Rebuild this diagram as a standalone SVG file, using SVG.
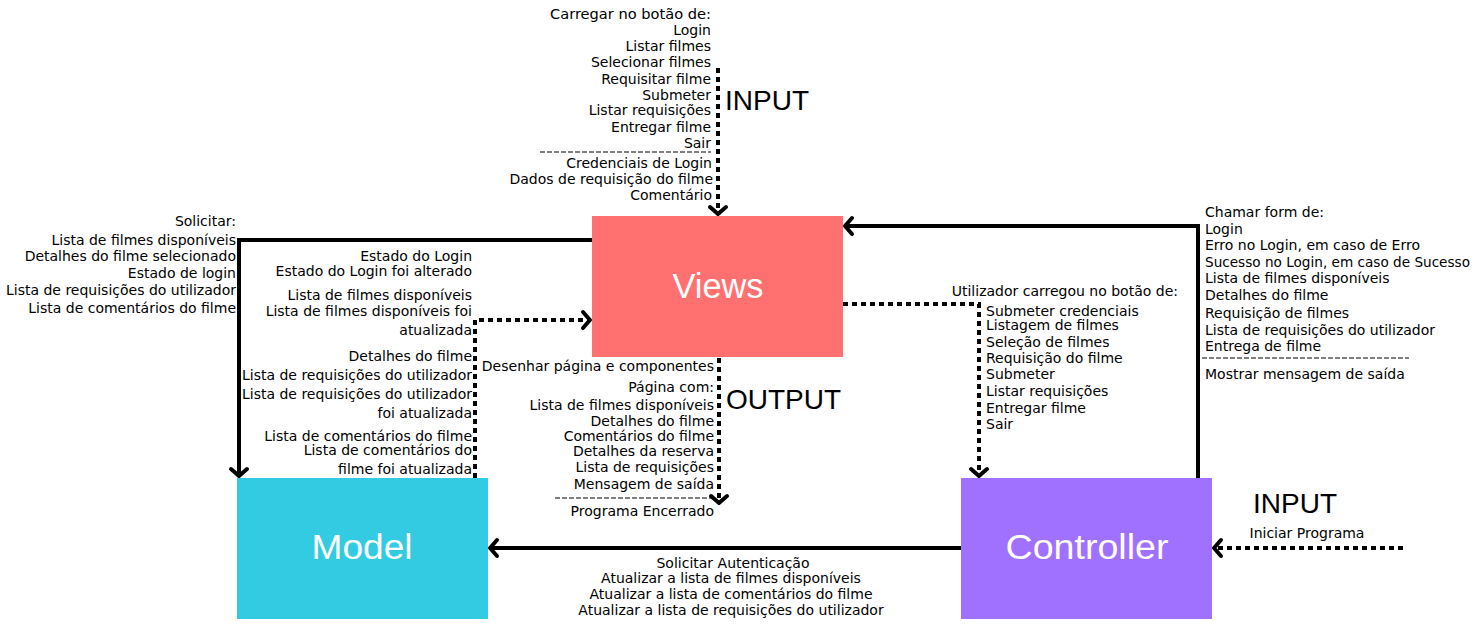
<svg xmlns="http://www.w3.org/2000/svg" width="1478" height="636" viewBox="0 0 1478 636">
<style>
text{font-family:"DejaVu Sans","Liberation Sans",sans-serif;font-size:14px;fill:#000}
.r{text-anchor:end}
.m{text-anchor:middle}
.big{font-family:"Liberation Sans","DejaVu Sans",sans-serif;font-size:35px;fill:#fff;text-anchor:middle}
.io{font-family:"Liberation Sans","DejaVu Sans",sans-serif;font-size:28px}
.solid{fill:none;stroke:#000;stroke-width:4}
.dot{fill:none;stroke:#000;stroke-width:4;stroke-dasharray:5 4}
.sep{stroke:#000;stroke-width:1;stroke-dasharray:5 2}
</style>
<defs>
<marker id="arr" markerUnits="userSpaceOnUse" viewBox="-12 -12 24 24" markerWidth="24" markerHeight="24" refX="0" refY="0" orient="auto" overflow="visible">
<path d="M-8,-8 L-1,0 L-8,8" fill="none" stroke="#000" stroke-width="4" stroke-linecap="round" stroke-linejoin="round"/>
</marker>
</defs>
<rect width="1478" height="636" fill="#fff"/>

<g id="connectors">
<path class="solid" d="M592,240 H239 V477" marker-end="url(#arr)"/>
<path class="dot" d="M475,478 V320 H591" marker-end="url(#arr)"/>
<path class="dot" d="M718,68 V215" marker-end="url(#arr)"/>
<path class="dot" d="M719,358 V504" marker-end="url(#arr)"/>
<path class="dot" d="M843,304 H979 V477" marker-end="url(#arr)"/>
<path class="solid" d="M1198,478 V226 H844" marker-end="url(#arr)"/>
<path class="solid" d="M961,548 H489" marker-end="url(#arr)"/>
<path class="dot" d="M1403,548 H1213" marker-end="url(#arr)"/>
</g>

<g id="views">
<rect x="592" y="216" width="251" height="141" fill="#ff7070"/>
<text class="big" x="718" y="298" textLength="91" lengthAdjust="spacingAndGlyphs">Views</text>
</g>
<g id="model">
<rect x="237" y="478" width="251" height="141" fill="#33cbe2"/>
<text class="big" x="362" y="559" textLength="101" lengthAdjust="spacingAndGlyphs">Model</text>
</g>
<g id="controller">
<rect x="961" y="478" width="251" height="141" fill="#a070ff"/>
<text class="big" x="1087" y="559" textLength="163" lengthAdjust="spacingAndGlyphs">Controller</text>
</g>

<g id="label-input-top">
<text class="r" x="711" y="19" textLength="161" lengthAdjust="spacingAndGlyphs">Carregar no botão de:</text>
<text class="r" x="711" y="35">Login</text>
<text class="r" x="711" y="51">Listar filmes</text>
<text class="r" x="711" y="67">Selecionar filmes</text>
<text class="r" x="711" y="84">Requisitar filme</text>
<text class="r" x="711" y="100">Submeter</text>
<text class="r" x="711" y="115">Listar requisições</text>
<text class="r" x="711" y="132">Entregar filme</text>
<text class="r" x="711" y="148">Sair</text>
<line class="sep" x1="540" y1="152" x2="711" y2="152"/>
<text class="r" x="712" y="168">Credenciais de Login</text>
<text class="r" x="713" y="184">Dados de requisição do filme</text>
<text class="r" x="712" y="200">Comentário</text>
<text class="io" x="725" y="110">INPUT</text>
</g>

<g id="label-solicitar">
<text class="r" x="236" y="226">Solicitar:</text>
<text class="r" x="236" y="245">Lista de filmes disponíveis</text>
<text class="r" x="236" y="261">Detalhes do filme selecionado</text>
<text class="r" x="236" y="278">Estado de login</text>
<text class="r" x="236" y="295">Lista de requisições do utilizador</text>
<text class="r" x="236" y="313">Lista de comentários do filme</text>
</g>

<g id="label-model-views">
<text class="r" x="472" y="261">Estado do Login</text>
<text class="r" x="472" y="276">Estado do Login foi alterado</text>
<text class="r" x="472" y="300">Lista de filmes disponíveis</text>
<text class="r" x="472" y="316">Lista de filmes disponíveis foi</text>
<text class="r" x="472" y="335">atualizada</text>
<text class="r" x="472" y="361">Detalhes do filme</text>
<text class="r" x="472" y="380">Lista de requisições do utilizador</text>
<text class="r" x="472" y="399">Lista de requisições do utilizador</text>
<text class="r" x="472" y="418">foi atualizada</text>
<text class="r" x="472" y="441">Lista de comentários do filme</text>
<text class="r" x="472" y="455">Lista de comentários do</text>
<text class="r" x="472" y="474">filme foi atualizada</text>
</g>

<g id="label-output">
<text class="r" x="714" y="371">Desenhar página e componentes</text>
<text class="r" x="714" y="392">Página com:</text>
<text class="r" x="714" y="410">Lista de filmes disponíveis</text>
<text class="r" x="714" y="426">Detalhes do filme</text>
<text class="r" x="714" y="441">Comentários do filme</text>
<text class="r" x="714" y="456">Detalhes da reserva</text>
<text class="r" x="714" y="472">Lista de requisições</text>
<text class="r" x="714" y="489">Mensagem de saída</text>
<line class="sep" x1="555" y1="498" x2="712" y2="498"/>
<text class="r" x="714" y="516">Programa Encerrado</text>
<text class="io" x="726" y="409">OUTPUT</text>
</g>

<g id="label-views-controller">
<text class="r" x="1178" y="296">Utilizador carregou no botão de:</text>
<text x="986" y="316">Submeter credenciais</text>
<text x="986" y="330">Listagem de filmes</text>
<text x="986" y="347">Seleção de filmes</text>
<text x="986" y="363">Requisição do filme</text>
<text x="986" y="379">Submeter</text>
<text x="986" y="396">Listar requisições</text>
<text x="986" y="413">Entregar filme</text>
<text x="986" y="429">Sair</text>
</g>

<g id="label-controller-views">
<text x="1205" y="217">Chamar form de:</text>
<text x="1205" y="234">Login</text>
<text x="1205" y="250">Erro no Login, em caso de Erro</text>
<text x="1205" y="267" textLength="265" lengthAdjust="spacingAndGlyphs">Sucesso no Login, em caso de Sucesso</text>
<text x="1205" y="283">Lista de filmes disponíveis</text>
<text x="1205" y="300">Detalhes do filme</text>
<text x="1205" y="318">Requisição de filmes</text>
<text x="1205" y="335">Lista de requisições do utilizador</text>
<text x="1205" y="351">Entrega de filme</text>
<line class="sep" x1="1202" y1="358" x2="1409" y2="358"/>
<text x="1205" y="379">Mostrar mensagem de saída</text>
</g>

<g id="label-input-right">
<text class="io" x="1253" y="513">INPUT</text>
<text class="m" x="1307" y="538">Iniciar Programa</text>
</g>

<g id="label-controller-model">
<text class="m" x="733" y="568">Solicitar Autenticação</text>
<text class="m" x="731" y="583">Atualizar a lista de filmes disponíveis</text>
<text class="m" x="731" y="599">Atualizar a lista de comentários do filme</text>
<text class="m" x="731" y="615">Atualizar a lista de requisições do utilizador</text>
</g>
</svg>
